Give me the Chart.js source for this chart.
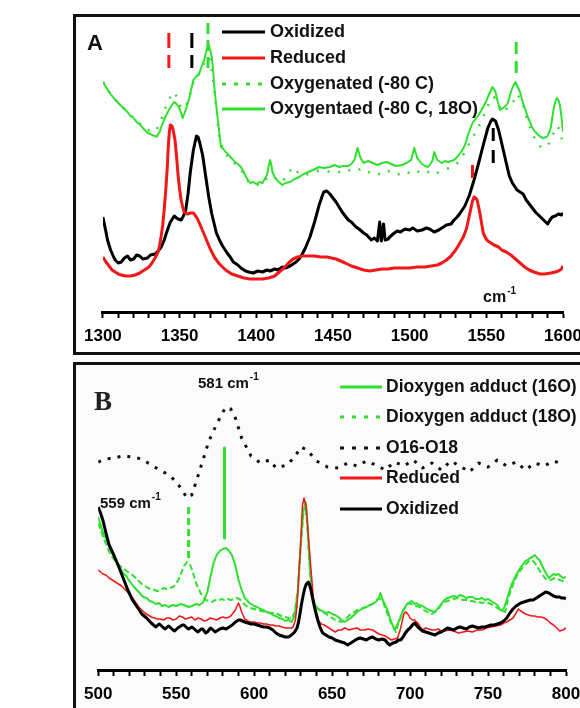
<!DOCTYPE html>
<html>
<head>
<meta charset="utf-8">
<title>Resonance Raman spectra</title>
<script src="https://cdn.jsdelivr.net/npm/chart.js@4.4.1/dist/chart.umd.min.js"></script>
<style>
  html, body { margin: 0; padding: 0; width: 580px; height: 708px; overflow: hidden; background: #fff; }
  .frame { position: absolute; left: 73px; width: 540px; border: 3px solid #111; box-sizing: border-box; }
  #frameA { top: 14px; height: 341px; }
  #frameB { top: 362px; height: 400px; background: #fbfbfb; }
  canvas { position: absolute; }
  #ramanA { left: 76px; top: 17px; }
  #ramanB { left: 76px; top: 365px; }
</style>
</head>
<body>
<div class="frame" id="frameA"></div>
<div class="frame" id="frameB"></div>
<canvas id="ramanA" width="520" height="335"></canvas>
<canvas id="ramanB" width="520" height="343"></canvas>
<script>
// ---- panel A, 1300-1600 cm-1 (intensity in arbitrary units) ----
const oxidizedA = [[1300,95],[1302,80],[1303,72],[1305,62],[1307,55],[1308,52],[1310,49],[1312,50],[1314,54],[1316,56],[1318,52],[1320,53],[1322,57],[1324,56],[1326,53],[1329,54],[1331,57],[1334,58],[1336,61],[1338,65],[1340,72],[1341,77],[1343,86],[1344,90],[1346.5,96],[1348,94],[1349,93],[1351,92],[1352.5,96],[1354,102],[1355.5,118],[1357,140],[1359,162],[1361,176],[1362,175],[1363,170],[1365,157],[1367,136],[1369,115],[1371,98],[1374,79],[1376,72],[1378,66],[1381,59],[1383,55],[1385,50],[1388,47],[1390,44],[1393,41],[1395,40],[1398,39],[1401,41],[1404,40],[1407,42],[1409,41],[1412,43],[1414,42],[1417,45],[1419,44],[1422,46],[1424,48],[1426,50],[1428,53],[1430,58],[1432,64],[1435,75],[1438,90],[1441,107],[1443,116],[1444,120],[1446,121],[1448,118],[1450,114],[1452,110],[1454,105],[1456,100],[1458,96],[1460,92],[1462,90],[1465,85],[1467,83],[1470,79],[1472,77],[1475,72],[1477,74],[1479,71],[1480.5,90],[1481.5,71],[1483,88],[1484,72],[1486,73],[1487,75],[1490,79],[1492,81],[1494,80],[1497,83],[1500,82],[1502,84],[1505,81],[1508,82],[1511,84],[1513,83],[1516,80],[1519,82],[1522,85],[1524,87],[1527,88],[1529,92],[1531,95],[1533,99],[1536,106],[1539,117],[1542,132],[1545,149],[1548,167],[1551,184],[1553,191],[1554,193],[1556,191],[1558,182],[1560,169],[1563,149],[1565,136],[1567,129],[1570,122],[1572,120],[1574,118],[1576,112],[1578,108],[1580,104],[1582,100],[1584,97],[1586,94],[1588,91],[1590,88],[1591.5,92],[1593,95],[1595,96],[1597,98],[1599,97],[1600,99]];

const reducedA = [[1300,55],[1302,50],[1304,46],[1306,42],[1308,40],[1310,38],[1312,37],[1315,36],[1318,36],[1321,37],[1324,39],[1327,42],[1330,45],[1332,49],[1334,54],[1336,60],[1337,67],[1338,76],[1339,87],[1340,103],[1341,122],[1342,145],[1342.5,162],[1343.3,180],[1344,187],[1345,186],[1345.5,184],[1346.3,178],[1347,172],[1348,156],[1349,137],[1350,123],[1351,112],[1352,105],[1353,100],[1355,98],[1357,99],[1359,99],[1360.5,96],[1362,92],[1364,85],[1367,74],[1370,63],[1373,54],[1376,48],[1380,42],[1384,38],[1388,36],[1392,34],[1396,33],[1400,33],[1404,33],[1408,34],[1412,36],[1415,40],[1418,44],[1421,49],[1424,53],[1427,55],[1430,56],[1434,56],[1438,56],[1442,55],[1446,55],[1449,54],[1452,53],[1455,51],[1458,49],[1462,46],[1466,44],[1470,42],[1474,41],[1478,42],[1482,43],[1486,43],[1490,44],[1495,44],[1500,44],[1505,45],[1510,45],[1514,46],[1518,47],[1521,49],[1524,52],[1527,56],[1530,62],[1532,67],[1535,75],[1537,83],[1538,90],[1539,97],[1540,104],[1541,111],[1542,115],[1543,114],[1544,112],[1545,105],[1546,97],[1547,88],[1548,79],[1549.5,74],[1551,71],[1553,69],[1555,67],[1558,65],[1560,62],[1563,60],[1566,57],[1569,53],[1572,49],[1575,45],[1578,42],[1581,40],[1585,38],[1588,38],[1592,39],[1595,40],[1597,41],[1599,43],[1600,46]];

const oxygenatedA = [[1300,230],[1305,218],[1310,209],[1316,200],[1322,191],[1328,183],[1332,180],[1335,182],[1338,192],[1341,205],[1344,215],[1346.5,220],[1348.5,214],[1350,207],[1352,203],[1354,205],[1356,213],[1359,230],[1362,236],[1365,246],[1368,255],[1370,252],[1372,232],[1374,203],[1376,172],[1379,160],[1383,153],[1387,147],[1391,140],[1395,130],[1400,127],[1404,128],[1408,136],[1412,134],[1417,130],[1420,137],[1424,145],[1428,138],[1432,137],[1436,139],[1440,141],[1444,142],[1448,140],[1452,141],[1456,139],[1460,142],[1464,140],[1468,143],[1472,139],[1476,141],[1480,138],[1484,142],[1488,140],[1492,137],[1496,141],[1500,139],[1504,142],[1508,138],[1512,140],[1516,137],[1520,141],[1524,143],[1528,145],[1532,150],[1536,160],[1540,172],[1544,182],[1548,195],[1552,210],[1555,215],[1557,211],[1560,200],[1563,203],[1566,205],[1570,218],[1573,212],[1576,196],[1579,182],[1582,172],[1586,164],[1590,166],[1593,176],[1596,186],[1598,182],[1600,167]];

const oxygenated18A = [[1300,230],[1302,225],[1304,220],[1306,216],[1308,212],[1310,209],[1312,206],[1314,203],[1316,200],[1318,196],[1320,194],[1322,190],[1323,189],[1325,186],[1326,184],[1328,181],[1329,179],[1331,178],[1332,177],[1334,176],[1335,175],[1336,178],[1337,180],[1338,185],[1339,189],[1341,196],[1343,202],[1345,207],[1346.5,210],[1348,208],[1349.5,205],[1351,199],[1352,194],[1353,198],[1354,202],[1356,212],[1357.5,222],[1359,232],[1361,236],[1362.5,237],[1364,244],[1366,252],[1367,258],[1368,264],[1369,267],[1370,262],[1371,255],[1372,240],[1372.5,227],[1374,205],[1375.5,185],[1377,165],[1378.5,163],[1380,160],[1381.5,158],[1383,155],[1384.5,153],[1386,150],[1388,148],[1390,145],[1391.5,141],[1393,136],[1395,131],[1396,129],[1398,130],[1400,128],[1402,130],[1404,129],[1405.5,133],[1407,137],[1408,145],[1409,152],[1410,146],[1410.5,140],[1412,135],[1414,131],[1417,127],[1419,129],[1422,130],[1425,133],[1428,135],[1431,138],[1434,140],[1437,142],[1441,145],[1444,144],[1448,145],[1451,147],[1454,145],[1457,146],[1460,146],[1462,148],[1464,152],[1466,164],[1468,154],[1470,149],[1473,151],[1476,149],[1479,147],[1482,149],[1485,150],[1488,148],[1491,146],[1495,147],[1498,149],[1501,152],[1503,164],[1505,154],[1508,148],[1510,146],[1512,145],[1514,149],[1515,152],[1516,160],[1517,156],[1518,152],[1521,149],[1523,151],[1525,150],[1527,151],[1529,152],[1531,155],[1532,157],[1534,161],[1535.5,165],[1537,171],[1538,177],[1540,185],[1541,189],[1543,193],[1545,197],[1546.5,201],[1548,205],[1550,211],[1551,215],[1552.5,220],[1554,225],[1555,223],[1556,220],[1557.5,210],[1559,202],[1560,203],[1561,204],[1562.5,206],[1564,209],[1565,214],[1566,220],[1567.5,226],[1569,230],[1570.5,225],[1572,220],[1573,214],[1574,209],[1575.5,202],[1577,195],[1578.5,190],[1580,184],[1582,180],[1584,177],[1585.5,175],[1587,174],[1589,175],[1590,176],[1591,180],[1592,184],[1593,194],[1594,204],[1595,210],[1596,214],[1597,212],[1598,207],[1599,195],[1600,180]];

// band markers: [wavenumber, top, bottom]
const bandMarksA = [[1343,279,244],[1358,279,244],[1368.5,289,240],[1569.5,270,232],[1554.5,184,147],[1541,147,134]];
const bandColorsA = ['#f01818', '#000', '#2fe02f', '#2fe02f', '#000', '#f01818'];

const legendA = ['Oxidized', 'Reduced', 'Oxygenated (-80 C)', 'Oxygentaed (-80 C, 18O)'];
const ticksA = { min: 1300, max: 1600 };

// ---- panel B, 500-800 cm-1 ----
const adduct16B = [[500,153],[503,138],[507,125],[510,113],[513,105],[516,97],[518,94],[520,89],[523,83],[526,78],[529,73],[531,72],[533,69],[535,68],[537,66],[539,67],[541,64],[543,65],[545,63],[548,65],[550,64],[553,66],[555,65],[558,63],[560,64],[563,66],[565,65],[567,67],[568,70],[570,78],[572,93],[574,107],[576,115],[578,119],[580,121],[582,122],[584,119],[586,114],[588,104],[590,90],[592,80],[594,72],[597,67],[600,64],[602,63],[604,61],[606,60],[608,58],[610,57],[612,55],[614,54],[616,52],[618,51],[620,49],[622,50],[624,48],[626,54],[628,78],[630,130],[631.5,158],[633,168],[634,150],[635.5,110],[637,78],[639,65],[642,60],[644,59],[646,57],[648,58],[650,56],[652,55],[654,53],[656,50],[658,48],[660,50],[662,52],[664,55],[666,58],[668,60],[670,62],[672,63],[674,65],[676,66],[678,68],[680,72],[681,77],[682.5,70],[684,65],[686,58],[687,52],[689,44],[690,40],[691,43],[692,46],[694,53],[695,58],[697,63],[698,66],[700,68],[701,69],[703,66],[704,67],[706,65],[708,64],[710,62],[712,60],[714,59],[716,58],[718,62],[720,66],[722,70],[724,72],[726,73],[728,74],[730,73],[732,75],[734,74],[736,72],[738,73],[740,73],[742,71],[744,71],[746,72],[748,70],[750,71],[752,69],[754,67],[756,65],[757.5,61],[759,59],[760.5,63],[762,70],[763.5,78],[765,85],[766.5,90],[768,95],[769.5,99],[771,103],[772.5,106],[774,109],[775.5,110],[777,112],[778.5,113],[780,115],[781.5,112],[783,110],[784.5,105],[786,100],[787.5,96],[789,92],[790.5,94],[792,96],[793.5,95],[795,96],[796.5,94],[798,92],[800,93]];

const adduct18B = [[500,147],[502,138],[504,130],[506,122],[508,115],[510,111],[512,107],[514,104],[516,102],[518,99],[520,97],[522,95],[524,92],[526,89],[528,86],[530,84],[532,82],[534,81],[536,80],[538,79],[540,80],[542,82],[544,81],[546,82],[548,83],[550,86],[551,89],[552,92],[553,96],[554,100],[555,104],[556,106],[557,108],[558,107],[559,105],[560,101],[561,96],[562,91],[563,86],[564.5,81],[566,76],[567.5,73],[569,70],[571,69],[573,68],[575,70],[577,69],[579,71],[581,70],[583,71],[585,70],[587,71],[589,72],[590.5,71],[592,69],[593.5,66],[595,64],[597.5,62],[600,61],[602.5,60],[605,59],[607.5,58],[610,57],[612.5,57],[615,56],[617.5,54],[620,53],[622,52],[624,51],[626,58],[628,80],[630,125],[631.5,155],[633,165],[634,145],[635.5,105],[637,75],[640,62],[642,60],[644,58],[646,56],[648,54],[650,52],[652,50],[654,49],[656,48],[658,50],[660,53],[662,56],[664,58],[666,60],[668,61],[670,62],[672,63],[674,64],[676,66],[678,69],[680,72],[681.5,70],[683,67],[684.5,60],[686,54],[687.5,48],[689,44],[690,41],[691,38],[692,44],[693,49],[694.5,55],[696,61],[697.5,64],[699,67],[700.5,66],[702,65],[704,64],[706,63],[708,61],[710,59],[712,57],[714,56],[716,58],[718,61],[720,65],[722,68],[724,69],[726,70],[728,71],[730,72],[732,71],[734,70],[736,70],[738,69],[740,69],[742,68],[744,68],[746,67],[748,68],[750,67],[752,66],[754,64],[756,62],[758,60],[759.5,59],[761,58],[762,65],[763,72],[764.5,79],[766,85],[767.5,91],[769,96],[770.5,99],[772,102],[773.5,105],[775,107],[776.5,109],[778,110],[779.5,108],[781,105],[782.5,101],[784,97],[785.5,94],[787,91],[788.5,90],[790,90],[791.5,91],[793,92],[794.5,91],[796,90],[798,89],[800,88]];

const differenceB = [[500,208],[505,211],[510,212],[516,214],[522,213],[528,211],[535,204],[541,199],[547,193],[552,184],[557,172],[560,175],[563,189],[567,209],[571,229],[576,246],[580,258],[582,263],[585,261],[588,252],[592,232],[598,214],[604,207],[610,210],[614,202],[621,205],[626,213],[630,223],[634,220],[640,209],[647,203],[654,202],[660,207],[666,204],[672,209],[678,205],[684,200],[690,208],[696,204],[702,210],[708,202],[714,207],[720,200],[726,209],[732,204],[738,198],[744,207],[750,203],[756,210],[762,204],[768,208],[774,200],[780,207],[786,204],[792,209],[798,206]];

const reducedB = [[500,100],[503,96],[505,95],[507,92],[510,89],[513,86],[515,84],[517,81],[520,76],[523,70],[526,63],[528,60],[530,57],[532,55],[534,53],[536,52],[538,51],[540,51],[542,50],[544,52],[546,52],[548,50],[550,51],[552,54],[554,53],[556,51],[558,52],[560,53],[562,50],[564,52],[566,51],[568,49],[570,50],[572,52],[574,51],[576,50],[578,52],[580,53],[582,52],[584,53],[585,54],[587,58],[588,60],[589,64],[590,67],[591,63],[592,58],[594,51],[596,49],[598,48],[600,48],[602,47],[604,47],[606,46],[608,46],[610,45],[612,45],[614,44],[616,44],[618,43],[620,42],[622,42],[624,42],[625,43],[626.5,50],[627.5,64],[628.5,90],[629.7,123],[631,165],[632,172],[633.5,163],[635,130],[636.5,100],[638,72],[640,52],[641.5,49],[643,46],[645,45],[647,43],[649,41],[652,38],[654,40],[656,40],[658,42],[661,40],[663,41],[666,42],[668,40],[671,40],[673,41],[676,40],[678,38],[680,36],[682,35],[684,34],[686,32],[688,30],[690,31],[692,32],[693,37],[694,42],[695,49],[696,56],[697,58],[698,57],[699,55],[700,52],[701.5,50],[703,50],[704,48],[705,47],[706.5,43],[708,40],[710,42],[712,41],[714,40],[716,40],[718,41],[720,39],[722,39],[725,40],[728,39],[731,37],[734,38],[737,39],[740,38],[743,40],[746,40],[749,42],[752,43],[755,44],[758,45],[760,47],[762,48],[764,50],[766,52],[768,57],[769.5,61],[771,59],[772,58],[774,56],[776,55],[778,54],[780,54],[782,53],[784,53],[786,52],[788,50],[790,47],[792,45],[794,42],[796,39],[798,40],[800,42]];

const oxidizedB = [[500,163],[501.5,157],[503,150],[505,137],[507,125],[510,115],[513,104],[516,92],[519,80],[522,70],[525,63],[528,56],[531,52],[534,47],[537,43],[539,46],[540,45],[542,42],[543,41],[545,44],[546,43],[548,40],[549,39],[551,42],[552,43],[554,45],[555,45],[557,42],[558,41],[560,43],[561,42],[563,39],[564,38],[566,41],[567,41],[569,37],[570,38],[572,42],[573,41],[575,38],[576,39],[578,41],[580,42],[582,41],[584,43],[586,45],[588,48],[590,50],[591,50],[592.5,49],[594,48],[596,47],[598,46],[600,46],[602,45],[604,44],[606,43],[608,43],[610,42],[612,40],[614,37],[616,35],[618,34],[620,33],[622,33],[624,35],[626,38],[627.5,42],[628.5,48],[629.5,57],[630.5,67],[631.5,75],[632.5,82],[633.5,86],[634.8,88],[635.6,85],[636.5,80],[637.2,74],[638,68],[639,61],[640,55],[641,49],[642,44],[643,40],[644,37],[646,35],[648,33],[650,32],[652,30],[654,29],[656,28],[658,27],[660,25],[662,27],[664,29],[666,31],[668,32],[670,31],[672,30],[674,32],[676,33],[678,31],[680,30],[682,31],[684,30],[685.5,27],[687,25],[689,27],[691,28],[692.5,30],[694,30],[695.5,33],[697,37],[698.5,40],[700,42],[701.5,45],[703,47],[704,45],[705,43],[706.5,41],[708,39],[710,38],[712,37],[714,36],[716,35],[718,37],[720,38],[722,40],[724,42],[726,41],[728,40],[730,42],[732,43],[734,42],[736,41],[738,43],[740,44],[742,43],[744,42],[746,43],[748,43],[750,44],[752,45],[754,45],[756,46],[758,47],[760,49],[762,52],[764,57],[766,61],[768,64],[770,66],[771,67],[773,68],[775,69],[777,70],[779,70],[781,72],[783,74],[785,76],[787,78],[789,77],[790,76],[792,74],[794,73],[796,73],[797,72],[799,72],[800,71]];

const bandMarksB = [[558,163,110],[581,222,132]];
const legendB = ['Dioxygen adduct (16O)', 'Dioxygen adduct (18O)', 'O16-O18', 'Reduced', 'Oxidized'];
const ticksB = { min: 500, max: 800 };

const FONT = "'Liberation Sans', Arial, Helvetica, sans-serif";
const GREEN = '#2fe02f';
const RED = '#f01818';

function lineSet(label, points, color, width, dash) {
    return {
        label: label,
        data: points.map(p => ({ x: p[0], y: p[1] })),
        borderColor: color,
        borderWidth: width,
        borderDash: dash || [],
        borderJoinStyle: 'round',
        pointRadius: 0,
        tension: 0,
        fill: false
    };
}

function markSet(mark, color, width, dash) {
    return lineSet('', [[mark[0], mark[1]], [mark[0], mark[2]]], color, width, dash);
}

function xAxis(range, height) {
    return {
        type: 'linear',
        min: range.min,
        max: range.max,
        afterFit: scale => { scale.height = height; },
        border: { display: true, color: '#000', width: 3 },
        grid: { drawOnChartArea: false, drawTicks: true, tickLength: 6, tickWidth: 2, tickColor: '#000' },
        ticks: {
            stepSize: 10,
            autoSkip: false,
            maxRotation: 0,
            padding: 8,
            color: '#000',
            font: { family: FONT, size: 17, weight: 'bold' },
            callback: v => (v % 50 === 0 ? v : '')
        }
    };
}

// line samples + labels, stacked top to bottom
function drawLegend(chart, labels, geom) {
    var ctx = chart.ctx;
    labels.forEach((label, i) => {
        var ds = chart.data.datasets.find(d => d.label === label);
        var y = geom.ys[i];
        ctx.save();
        ctx.strokeStyle = ds.borderColor;
        ctx.lineWidth = geom.width;
        ctx.setLineDash(ds.borderDash.length ? geom.dash : []);
        ctx.beginPath();
        ctx.moveTo(geom.x0, y);
        ctx.lineTo(geom.x1, y);
        ctx.stroke();
        ctx.restore();

        ctx.save();
        ctx.fillStyle = '#111';
        ctx.font = 'bold ' + geom.size + 'px ' + FONT;
        ctx.textBaseline = 'middle';
        ctx.fillText(label, geom.tx, y);
        ctx.restore();
    });
}

// "cm" with a raised "-1"
function drawUnit(ctx, text, x, y, size) {
    ctx.save();
    ctx.fillStyle = '#111';
    ctx.textBaseline = 'middle';
    ctx.font = 'bold ' + size + 'px ' + FONT;
    ctx.fillText(text, x, y);
    var w = ctx.measureText(text).width;
    ctx.font = 'bold ' + Math.round(size * 0.65) + 'px ' + FONT;
    ctx.fillText('-1', x + w + 1, y - size * 0.42);
    ctx.restore();
}

function baseOptions(range, axisHeight, pad, ymax) {
    return {
        responsive: false,
        animation: false,
        events: [],
        layout: { padding: pad },
        plugins: { legend: { display: false }, tooltip: { enabled: false } },
        scales: {
            x: xAxis(range, axisHeight),
            y: { display: false, min: 0, max: ymax }
        }
    };
}

// ---- chart A ----
var decorA = {
    id: 'decorA',
    afterDraw(chart) {
        var ctx = chart.ctx;
        drawLegend(chart, legendA, { x0: 146, x1: 189, tx: 194, ys: [15, 41, 67, 92], width: 3, dash: [4, 8], size: 18 });
        ctx.save();
        ctx.fillStyle = '#111';
        ctx.font = 'bold 22px ' + FONT;
        ctx.textBaseline = 'middle';
        ctx.fillText('A', 11, 27);
        ctx.restore();
        drawUnit(ctx, 'cm', 407, 281, 16);
    }
};

var optsA = baseOptions(ticksA, 40, { left: 22, right: 33, top: 0, bottom: 0 }, 295);

var dashA = [[15, 7], [15, 7], [11, 6], [12, 7], [13, 9], [13, 9]];
var setsA = bandMarksA.map((m, i) => markSet(m, bandColorsA[i], 3, dashA[i])).concat([
    lineSet('Reduced', reducedA, RED, 3),
    lineSet('Oxidized', oxidizedA, '#000', 3),
    lineSet('Oxygentaed (-80 C, 18O)', oxygenated18A, GREEN, 2),
    lineSet('Oxygenated (-80 C)', oxygenatedA, GREEN, 2.5, [2, 9])
]);

new Chart(document.getElementById('ramanA'), {
    type: 'line',
    data: { datasets: setsA },
    options: optsA,
    plugins: [decorA]
});

// ---- chart B ----
var decorB = {
    id: 'decorB',
    afterDraw(chart) {
        var ctx = chart.ctx;
        drawLegend(chart, legendB, { x0: 264, x1: 306, tx: 310, ys: [22, 52, 83, 113, 144], width: 3, dash: [4, 8], size: 17.5 });
        ctx.save();
        ctx.fillStyle = '#222';
        ctx.font = "bold 27px 'Liberation Serif', 'Times New Roman', serif";
        ctx.textBaseline = 'middle';
        ctx.fillText('B', 18, 38);
        ctx.restore();
        drawUnit(ctx, '581 cm', 122, 19, 15);
        drawUnit(ctx, '559 cm', 24, 139, 15);
    }
};

var optsB = baseOptions(ticksB, 38, { left: 16, right: 30, top: 0, bottom: 0 }, 305);

var setsB = [
    lineSet('Oxidized', oxidizedB, '#000', 3),
    lineSet('Reduced', reducedB, RED, 1.5),
    markSet(bandMarksB[0], GREEN, 3, [7, 4]),
    markSet(bandMarksB[1], GREEN, 3),
    lineSet('Dioxygen adduct (16O)', adduct16B, GREEN, 2),
    lineSet('Dioxygen adduct (18O)', adduct18B, GREEN, 2, [6, 3]),
    lineSet('O16-O18', differenceB, '#111', 3, [3, 7])
];

new Chart(document.getElementById('ramanB'), {
    type: 'line',
    data: { datasets: setsB },
    options: optsB,
    plugins: [decorB]
});
</script>
</body>
</html>
